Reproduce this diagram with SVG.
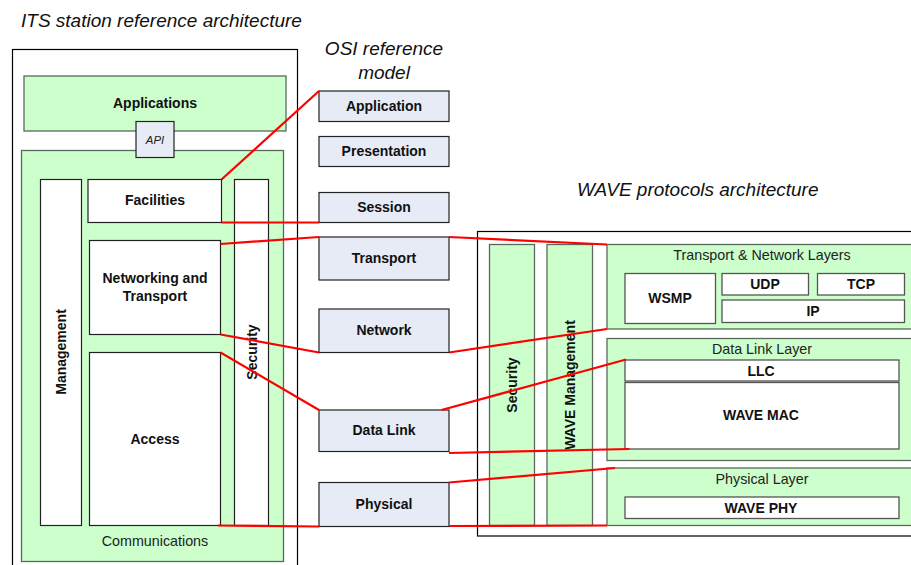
<svg xmlns="http://www.w3.org/2000/svg" width="911" height="565" viewBox="0 0 911 565">
<style>
.outer{fill:#fff;stroke:#000;stroke-width:1.2}
.green{fill:#ccffcc;stroke:#5a6a5a;stroke-width:1.3}
.white{fill:#fff;stroke:#222;stroke-width:1.2}
.wg{fill:#fff;stroke:#555;stroke-width:1.3}
.osi{fill:#e6ebf6;stroke:#222;stroke-width:1.2}
.b{font-family:"Liberation Sans",Arial,sans-serif;font-weight:bold;font-size:14px;fill:#111;text-anchor:middle}
.r{font-family:"Liberation Sans",Arial,sans-serif;font-size:14.3px;fill:#222;text-anchor:middle}
.t{font-family:"Liberation Sans",Arial,sans-serif;font-style:italic;font-size:19px;fill:#111}
.red{stroke:#ff0000;stroke-width:2.2;fill:none}
</style>
<rect width="911" height="565" fill="#fff"/>
<text class="t" x="21" y="27">ITS station reference architecture</text>
<text class="t" x="384" y="55" text-anchor="middle">OSI reference</text>
<text class="t" x="384" y="79" text-anchor="middle">model</text>
<text class="t" x="577" y="196">WAVE protocols architecture</text>

<g id="its-station">
<rect class="outer" x="12.5" y="49.5" width="285" height="520"/>
</g>
<g id="applications">
<rect class="green" x="24" y="76" width="262" height="55"/>
<text class="b" x="155" y="108">Applications</text>
</g>
<g id="communications">
<rect class="green" x="21.5" y="150.5" width="262" height="411"/>
<text class="r" x="155" y="546">Communications</text>
</g>
<g id="api">
<rect class="osi" x="136" y="121.5" width="38" height="36" fill="#e6ebf6" stroke="#555"/>
<text x="155" y="143.5" font-family="Liberation Sans,Arial,sans-serif" font-style="italic" font-size="11.4" text-anchor="middle" fill="#222">API</text>
</g>
<g id="management">
<rect class="white" x="40.5" y="179.5" width="41" height="346"/>
<text class="b" transform="translate(66,352) rotate(-90)">Management</text>
</g>
<g id="facilities">
<rect class="white" x="88" y="179.5" width="133.5" height="43"/>
<text class="b" x="155" y="205">Facilities</text>
</g>
<g id="security-its">
<rect class="white" x="234.5" y="179.5" width="34" height="346"/>
<text class="b" transform="translate(256.5,352) rotate(-90)">Security</text>
</g>
<g id="networking">
<rect class="white" x="89.5" y="240.5" width="131" height="94"/>
<text class="b" x="155" y="283">Networking and</text>
<text class="b" x="155" y="301">Transport</text>
</g>
<g id="access">
<rect class="white" x="89.5" y="352.5" width="131" height="173"/>
<text class="b" x="155" y="444">Access</text>
</g>

<g id="osi-application"><rect class="osi" x="319" y="91" width="130" height="30.5"/><text class="b" x="384" y="111">Application</text></g>
<g id="osi-presentation"><rect class="osi" x="319" y="136.5" width="130" height="30"/><text class="b" x="384" y="156">Presentation</text></g>
<g id="osi-session"><rect class="osi" x="319" y="192.5" width="130" height="30"/><text class="b" x="384" y="212">Session</text></g>
<g id="osi-transport"><rect class="osi" x="319" y="237" width="130" height="43"/><text class="b" x="384" y="263">Transport</text></g>
<g id="osi-network"><rect class="osi" x="319" y="309" width="130" height="43.5"/><text class="b" x="384" y="335">Network</text></g>
<g id="osi-datalink"><rect class="osi" x="319" y="410" width="130" height="41.5"/><text class="b" x="384" y="435">Data Link</text></g>
<g id="osi-physical"><rect class="osi" x="319" y="482.5" width="130" height="44"/><text class="b" x="384" y="509">Physical</text></g>

<g id="wave">
<rect class="outer" x="477.5" y="231.5" width="450" height="304.5"/>
</g>
<g id="wave-security">
<rect class="green" x="489.5" y="244.5" width="45" height="281"/>
<text class="b" transform="translate(517,385) rotate(-90)">Security</text>
</g>
<g id="wave-management">
<rect class="green" x="547" y="244.5" width="45.5" height="281"/>
<text class="b" transform="translate(574.5,385) rotate(-90)">WAVE Management</text>
</g>
<g id="transport-network">
<rect class="green" x="607" y="244.5" width="320" height="84.5"/>
<text class="r" x="762" y="260">Transport &amp; Network Layers</text>
</g>
<g id="wsmp"><rect class="wg" x="625" y="273.5" width="90.5" height="50"/><text class="b" x="670" y="303">WSMP</text></g>
<g id="udp"><rect class="wg" x="722" y="273.5" width="86.5" height="21.5"/><text class="b" x="765" y="289">UDP</text></g>
<g id="tcp"><rect class="wg" x="817.5" y="273.5" width="87" height="21.5"/><text class="b" x="861" y="289">TCP</text></g>
<g id="ip"><rect class="wg" x="722" y="300" width="182.5" height="22.5"/><text class="b" x="813" y="316">IP</text></g>
<g id="data-link-layer">
<rect class="green" x="607" y="338.5" width="320" height="122"/>
<text class="r" x="762" y="354">Data Link Layer</text>
</g>
<g id="llc"><rect class="wg" x="625" y="360" width="274" height="21"/><text class="b" x="761" y="375.5">LLC</text></g>
<g id="wave-mac"><rect class="wg" x="625" y="382.5" width="274" height="66.5"/><text class="b" x="761" y="420">WAVE MAC</text></g>
<g id="physical-layer">
<rect class="green" x="607" y="468" width="320" height="57.5"/>
<text class="r" x="762" y="483.5">Physical Layer</text>
</g>
<g id="wave-phy"><rect class="wg" x="625" y="497" width="274" height="21.5"/><text class="b" x="761" y="512.5">WAVE PHY</text></g>

<g id="connectors" class="red">
<line x1="221.5" y1="179.5" x2="319" y2="91"/>
<line x1="221.5" y1="222.5" x2="319" y2="222.5"/>
<line x1="220.5" y1="244" x2="319" y2="237"/>
<line x1="220.5" y1="334.5" x2="319" y2="352.5"/>
<line x1="220.5" y1="352.5" x2="319" y2="410"/>
<line x1="218" y1="525.5" x2="319" y2="526.5"/>
<line x1="449" y1="237" x2="607" y2="244.5"/>
<line x1="449" y1="352.5" x2="607" y2="329"/>
<line x1="441.5" y1="410" x2="626" y2="359.5"/>
<line x1="449" y1="453" x2="629.5" y2="449"/>
<line x1="449" y1="482.5" x2="615" y2="468"/>
<line x1="449" y1="526" x2="607" y2="525.5"/>
</g>
</svg>
